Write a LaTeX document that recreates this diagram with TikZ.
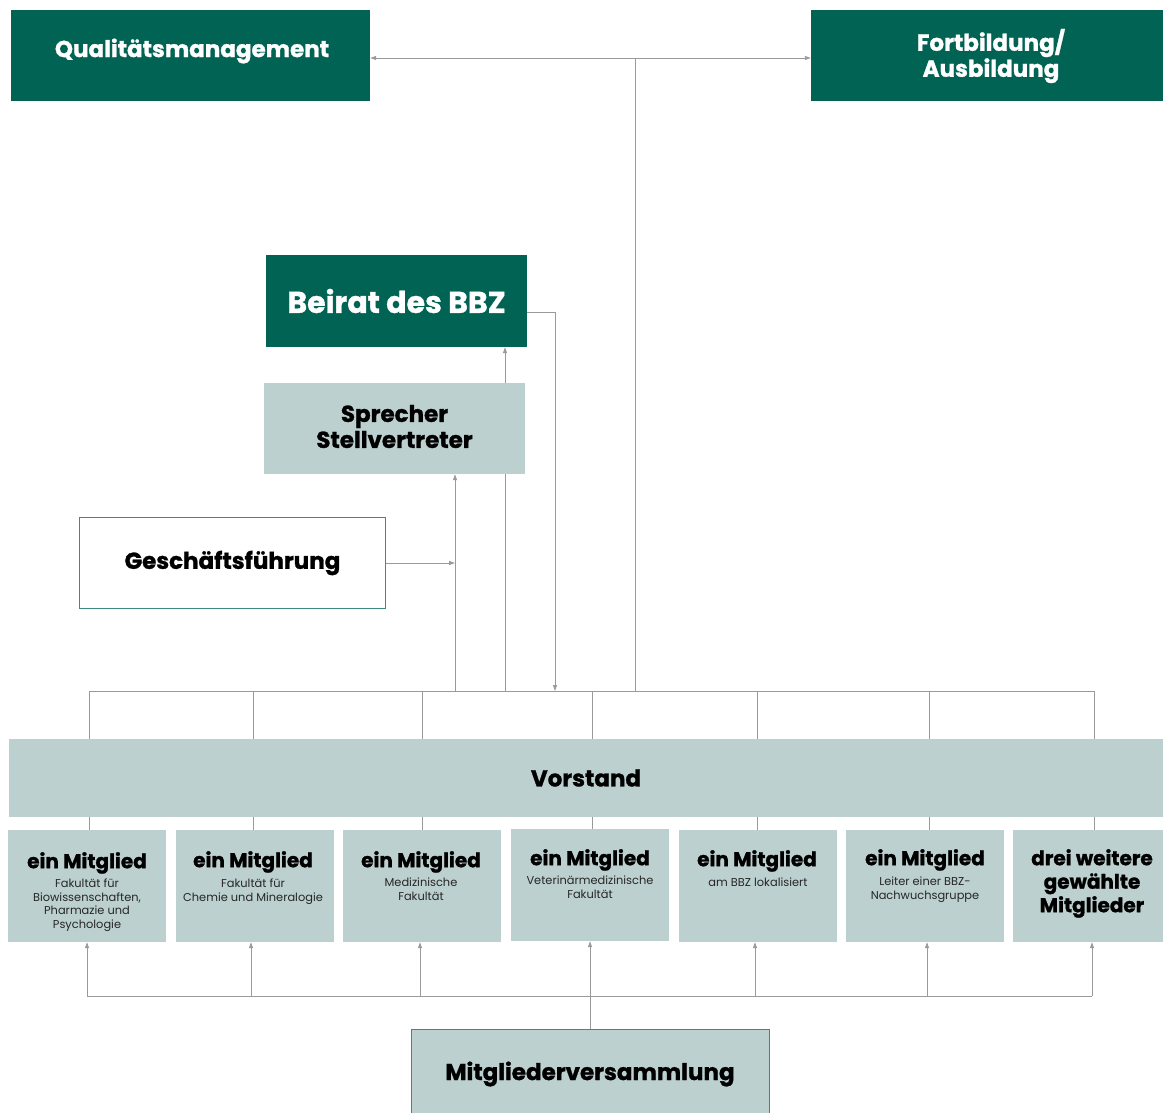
\documentclass[tikz,border=0pt]{standalone}
\usepackage{fontspec}
\setmainfont{Poppins}
\newfontfamily\heavy{Poppins}[BoldFeatures={FakeBold=1.2}]
\usetikzlibrary{arrows.meta,backgrounds}
\definecolor{dgreen}{HTML}{006353}
\definecolor{lgreen}{HTML}{BBD0CF}
\definecolor{lgray}{HTML}{9A9A9A}
\definecolor{gfb}{HTML}{3F8A80}
\begin{document}
\begin{tikzpicture}[x=1pt,y=-1pt,
  darkbox/.style={fill=dgreen,text=white,inner sep=0pt,align=center,font=\heavy\bfseries\fontsize{22}{26}\selectfont},
  lightbox/.style={fill=lgreen,text=black,inner sep=0pt,align=center,font=\heavy\bfseries\fontsize{22}{26}\selectfont},
  boxtext/.style={anchor=center,inner sep=0pt,align=center},
  membox/.style={fill=lgreen,inner sep=0pt,minimum width=158pt,minimum height=112pt},
  headtxt/.style={anchor=north,inner sep=0pt,align=center,font=\heavy\bfseries\fontsize{20}{23.5}\selectfont},
  subtxt/.style={anchor=north,inner sep=0pt,align=center,font=\fontsize{11.4}{13.5}\selectfont,text=black!85},
  conn/.style={draw=lgray,line width=0.9pt},
  arr/.style={conn,-{Triangle[length=6pt,width=4pt]}},
  darr/.style={conn,{Triangle[length=6pt,width=4pt]}-{Triangle[length=6pt,width=4pt]}}
]
\useasboundingbox (0,0) rectangle (1163,1113);
% top boxes
\node[darkbox,minimum width=359pt,minimum height=91pt] (qm) at (190.5,55.5) {};
\node[boxtext,text=white,font=\heavy\bfseries\fontsize{23}{26}\selectfont] (qmt) at (192,51) {Qualitätsmanagement};
\node[darkbox,minimum width=352pt,minimum height=91pt] (fb) at (987,55.5) {};
\node[boxtext,text=white,font=\heavy\bfseries\fontsize{23}{26}\selectfont] (fbt) at (991,56) {Fortbildung/\\Ausbildung};
% middle boxes
\node[darkbox,minimum width=261pt,minimum height=92pt,font=\heavy\bfseries\fontsize{30}{32}\selectfont] (bz) at (396.5,301) {Beirat des BBZ};
\node[lightbox,minimum width=261pt,minimum height=91pt] (sp) at (394.5,428.5) {};
\node[boxtext,font=\heavy\bfseries\fontsize{23}{26}\selectfont] (spt) at (394.5,426.5) {Sprecher\\Stellvertreter};
\node[fill=white,draw=gfb,line width=1pt,inner sep=0pt,minimum width=306pt,minimum height=91pt,font=\heavy\bfseries\fontsize{23}{26}\selectfont] (gf) at (232.5,563) {Geschäftsführung};
% Vorstand
\node[lightbox,minimum width=1154pt,minimum height=78pt,font=\heavy\bfseries\fontsize{23}{26}\selectfont] (vs) at (586,778) {Vorstand};
% member boxes
\node[membox] (m1) at (87,886) {};
\node[membox] (m2) at (255,886) {};
\node[membox] (m3) at (422,886) {};
\node[membox] (m4) at (590,885) {};
\node[membox] (m5) at (758,886) {};
\node[membox] (m6) at (925,886) {};
\node[membox,minimum width=150pt] (m7) at (1088,886) {};
\node[headtxt] (h1) at (87,852) {ein Mitglied};
\node[headtxt] (h2) at (253,851) {ein Mitglied};
\node[headtxt] (h3) at (421,851) {ein Mitglied};
\node[headtxt] (h4) at (590,849) {ein Mitglied};
\node[headtxt] (h5) at (757,850) {ein Mitglied};
\node[headtxt] (h6) at (925,849) {ein Mitglied};
\node[headtxt] (h7) at (1092,849) {drei weitere\\gewählte\\Mitglieder};
\node[subtxt] (s1) at (87,879) {Fakultät für\\Biowissenschaften,\\Pharmazie und\\Psychologie};
\node[subtxt] (s2) at (253,879) {Fakultät für\\Chemie und Mineralogie};
\node[subtxt] (s3) at (421,878) {Medizinische\\Fakultät};
\node[subtxt] (s4) at (590,876) {Veterinärmedizinische\\Fakultät};
\node[subtxt] (s5) at (758,878) {am BBZ lokalisiert};
\node[subtxt] (s6) at (925,877) {Leiter einer BBZ-\\Nachwuchsgruppe};
% Mitgliederversammlung
\node[lightbox,draw=gfb,line width=0.8pt,minimum width=358pt,minimum height=90pt,font=\heavy\bfseries\fontsize{23}{26}\selectfont] (mv) at (590,1074) {Mitgliederversammlung};
% coordinates
\coordinate (tj) at (635,58);
\coordinate (bj) at (635,691);
\coordinate (b1) at (89,691);
\coordinate (b2) at (253,691);
\coordinate (b3) at (422,691);
\coordinate (b4) at (592,691);
\coordinate (b5) at (757,691);
\coordinate (b6) at (929,691);
\coordinate (b7) at (1094,691);
\coordinate (g455) at (455,691);
\coordinate (g505) at (505,691);
\coordinate (g555) at (555,691);
\coordinate (l1) at (87,996);
\coordinate (l2) at (251,996);
\coordinate (l3) at (420,996);
\coordinate (l5) at (755,996);
\coordinate (l6) at (927,996);
\coordinate (l7) at (1092,996);
\begin{scope}[on background layer]
\draw[darr] ([yshift=-2.5pt]qm.east) -- ([yshift=-2.5pt]fb.west);
\draw[conn] (tj) -- (bj);
\draw[conn] (b1) -- (b7);
\foreach \i in {1,...,7} {\draw[conn] (b\i) -- (b\i |- m\i.north);}
\draw[arr] (g455) -- (g455 |- sp.south);
\draw[arr] (gf.east) -- (gf.east -| g455);
\draw[arr] (g505) -- (g505 |- bz.south);
\draw[arr] ([yshift=-11pt]bz.east) -| (g555);
\draw[conn] (l1) -- (l7);
\foreach \i in {1,2,3,5,6,7} {\draw[arr] (l\i) -- (l\i |- m\i.south);}
\draw[arr] (mv.north) -- (m4.south);
\end{scope}
\end{tikzpicture}
\end{document}
